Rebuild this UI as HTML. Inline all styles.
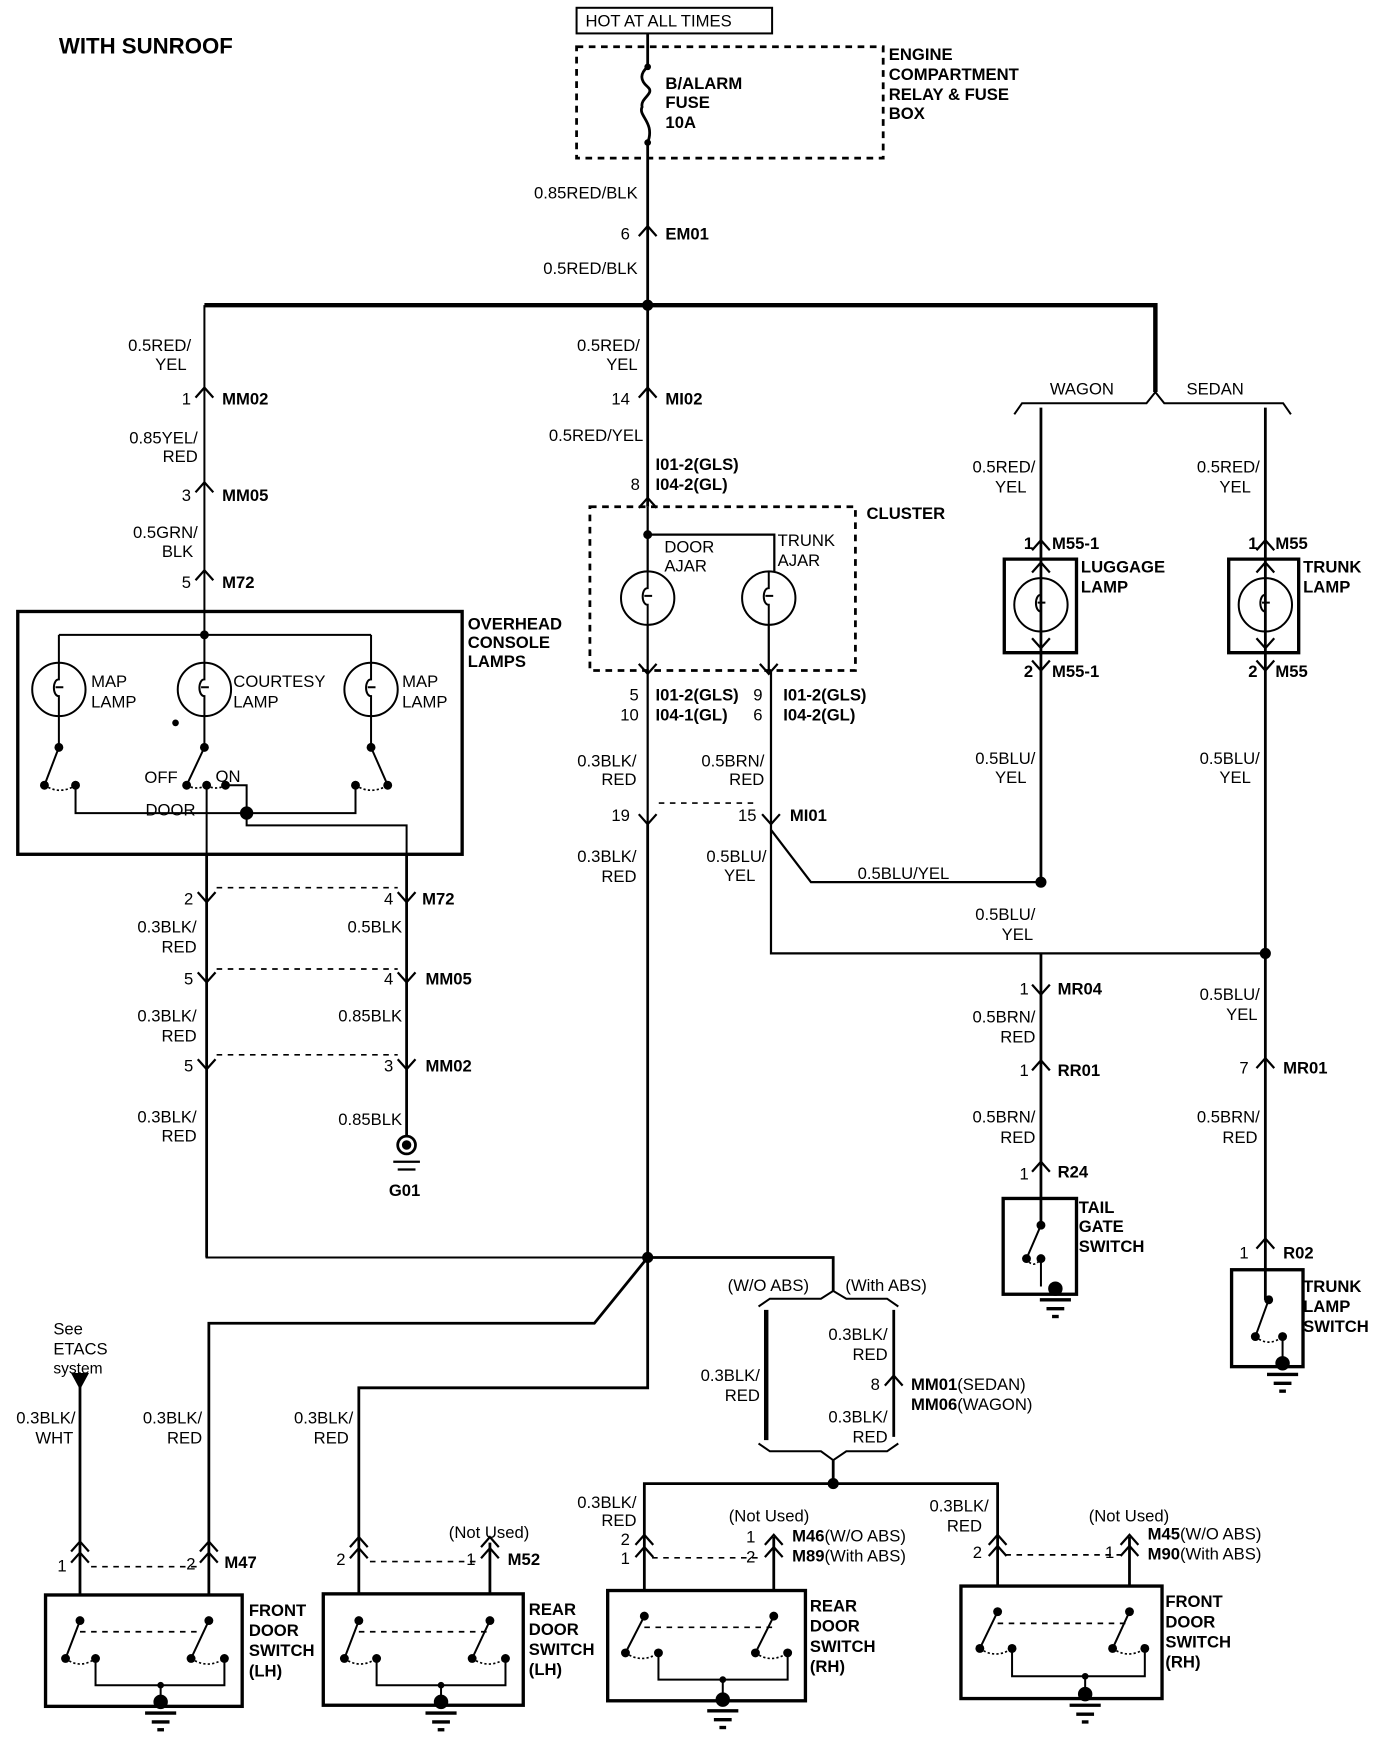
<!DOCTYPE html>
<html><head><meta charset="utf-8"><style>
html,body{margin:0;padding:0;background:#fff}
svg{display:block}
text{font-family:"Liberation Sans",sans-serif;font-size:15px;fill:#000}
.b{font-weight:bold}
.e{text-anchor:end}
</style></head><body>
<svg width="1392" height="1742" viewBox="0 0 1253 1564" preserveAspectRatio="none" xmlns="http://www.w3.org/2000/svg">
<defs>
<path id="cu" d="M-8,9 L0,0 L8,9" fill="none" stroke="#000" stroke-width="2"/>
<path id="cd" d="M-8,-9 L0,0 L8,-9" fill="none" stroke="#000" stroke-width="2"/>
<g id="lamp" fill="none" stroke="#000" stroke-width="1.8"><circle r="24"/><path d="M0,-24 V-9 C-6,-9 -6,6 0,6 V24 M-3,-2 H4"/></g>
<g id="gnd" stroke="#000" stroke-width="3"><circle r="5" fill="#000"/><line x1="-14" y1="10" x2="14" y2="10"/><line x1="-8" y1="18" x2="8" y2="18"/><line x1="-3" y1="25" x2="3" y2="25"/></g>
</defs>
<g fill="none" stroke="#000" stroke-width="2.5">
<rect x="519" y="7" width="176" height="23" stroke-width="1.8"/>
<rect x="519" y="42" width="276" height="100" stroke-dasharray="6,5"/>
<path d="M583,30 V60 M583,60 C576,66 576,72 583,78 C590,84 576,88 578,96 C574,104 590,110 583,128 V274"/>
<path d="M184,274 H1040 V352" stroke-width="4"/>
<path d="M913,372 L920,362 H1032 L1040,352 L1048,362 H1155 L1162,372" stroke-width="1.8"/>
<path d="M937,366 V792 M1139,366 V856"/>
<path d="M184,274 V570 M53,570 H334 M53,570 V596 M53,642 V671 M184,570 V596 M184,642 V671 M334,570 V596 M334,642 V671" stroke-width="1.8"/>
<rect x="16" y="549" width="400" height="218" stroke-width="3"/>
<path d="M53,671 L40,705 M184,671 L168,705 M334,671 L349,705" stroke-width="1.8"/>
<path d="M40,705 Q54,714 68,705 M168,705 Q177,710 186,705 M186,705 Q194,710 203,705 M320,705 Q334,714 349,705" stroke-dasharray="2,2" stroke-width="1.5"/>
<path d="M68,705 V730 H320 V705 M203,705 H222 V741 H366 V957 M186,705 V1129 H583" stroke-width="1.8"/>
<path d="M186,767 V1129 M366,767 V1020" stroke-width="2.5"/>
<path d="M195,797 H358 M195,870 H358 M195,947 H358" stroke-dasharray="5,5" stroke-width="1.5"/>
<circle cx="366" cy="1028" r="8"/><circle cx="366" cy="1028" r="3" fill="#000"/>
<path d="M354,1043 H378 M358,1050 H374" stroke-width="2"/>
<path d="M583,274 V455 M583,740 V1246 H323 V1430"/>
<rect x="531" y="455" width="239" height="147" stroke-dasharray="6,5"/>
<path d="M583,455 V513 M583,480 H697 V513 M583,561 V603 M692,561 V603 M583,603 V740 M694,603 V856 H1139 M694,745 L730,792 H937" stroke-width="2"/>
<path d="M593,721 H680" stroke-dasharray="5,5" stroke-width="1.5"/>
<path d="M583,1129 H750 V1159 M583,1129 L535,1188 H188 V1432"/>
<path d="M682.8,1173 L693,1166 H739 L750,1159 L761.8,1166 H798.5 L808.6,1173" stroke-width="1.8"/>
<path d="M682.8,1296 L693,1303 H739 L750,1311 L761.8,1303 H798.5 L808.6,1296" stroke-width="1.8"/>
<path d="M689.7,1176 V1293" stroke-width="4"/>
<path d="M804.5,1176 V1290 M750,1311 V1332 M580,1428 V1332 H898 V1424 M696.5,1380 V1428 M1016.7,1380 V1424 M441,1385 V1432 M72,1245 V1432"/>
<path d="M72,1245 L66,1234 L78,1234 Z" fill="#000"/>
<path d="M904,502 H969 V586 H904 Z M1106,502 H1169 V586 H1106 Z" stroke-width="3"/>
<path d="M937,856 V1100 M1139,856 V1167" />
<rect x="903" y="1076" width="66" height="86" stroke-width="3"/>
<path d="M937,1100 L924,1130 M937,1130 V1155" stroke-width="1.8"/>
<path d="M924,1130 Q930,1140 937,1130" stroke-dasharray="2,2" stroke-width="1.5"/>
<rect x="1108.6" y="1140" width="64.3" height="87" stroke-width="3"/>
<path d="M1142,1167 L1130,1200 M1154.5,1200 V1222" stroke-width="1.8"/>
<path d="M1130,1200 Q1142,1210 1154.5,1200" stroke-dasharray="2,2" stroke-width="1.5"/>
<rect x="41" y="1432" width="177" height="100" stroke-width="3"/>
<rect x="291" y="1431" width="180" height="100" stroke-width="3"/>
<rect x="547" y="1428" width="178" height="99" stroke-width="3"/>
<rect x="865" y="1424" width="181" height="101" stroke-width="3"/>
<path d="M72,1455 L59,1489 M188,1455 L172,1489 M323,1455 L310,1489 M441,1455 L425,1489 M580,1451 L563,1484 M696.5,1451 L680,1484 M898,1447 L882,1480 M1016.7,1447 L1001.5,1480" stroke-width="1.8"/>
<path d="M86,1489 V1513 H202 V1489 M144.6,1513 V1526 M339,1489 V1513 H455 V1489 M397,1513 V1526 M592.7,1484 V1508 H709 V1484 M650.6,1508 V1525 M911,1480 V1505 H1030.5 V1480 M976.8,1505 V1520" stroke-width="1.8"/>
<path d="M59,1489 Q72,1499 86,1489 M172,1489 Q187,1499 202,1489 M310,1489 Q324,1499 339,1489 M425,1489 Q440,1499 455,1489 M563,1484 Q578,1494 592.7,1484 M680,1484 Q694,1494 709,1484 M882,1480 Q896,1490 911,1480 M1001.5,1480 Q1016,1490 1030.5,1480" stroke-dasharray="2,2" stroke-width="1.5"/>
<path d="M72,1465 H182 M323,1465 H441 M580,1461 H696 M898,1457.5 H1016 M82,1406.6 H178 M333,1402 H430 M587,1398.6 H684 M905,1396 H1010" stroke-dasharray="5,5" stroke-width="1.5"/>
</g>
<g fill="#000">
<circle cx="583" cy="274" r="5"/><circle cx="583" cy="60" r="3"/><circle cx="583" cy="128" r="3"/>
<circle cx="184" cy="570" r="4"/><circle cx="583" cy="480" r="4"/><circle cx="222" cy="730" r="6"/>
<circle cx="53" cy="671" r="4"/><circle cx="184" cy="671" r="4"/><circle cx="334" cy="671" r="4"/>
<circle cx="40" cy="705" r="4"/><circle cx="68" cy="705" r="4"/><circle cx="168" cy="705" r="4"/><circle cx="186" cy="705" r="4"/><circle cx="203" cy="705" r="4"/><circle cx="320" cy="705" r="4"/><circle cx="349" cy="705" r="4"/>
<circle cx="158" cy="649" r="3"/>
<circle cx="937" cy="792" r="5"/><circle cx="1139" cy="856" r="5"/><circle cx="583" cy="1129" r="5"/><circle cx="750" cy="1332" r="5"/>
<circle cx="937" cy="1100" r="4"/><circle cx="924" cy="1130" r="4"/><circle cx="937" cy="1130" r="4"/>
<circle cx="1142" cy="1167" r="4"/><circle cx="1130" cy="1200" r="4"/><circle cx="1154.5" cy="1200" r="4"/>
<circle cx="72" cy="1455" r="4"/><circle cx="188" cy="1455" r="4"/><circle cx="59" cy="1489" r="4"/><circle cx="86" cy="1489" r="4"/><circle cx="172" cy="1489" r="4"/><circle cx="202" cy="1489" r="4"/><circle cx="144.6" cy="1513" r="3"/>
<circle cx="323" cy="1455" r="4"/><circle cx="441" cy="1455" r="4"/><circle cx="310" cy="1489" r="4"/><circle cx="339" cy="1489" r="4"/><circle cx="425" cy="1489" r="4"/><circle cx="455" cy="1489" r="4"/><circle cx="397" cy="1513" r="3"/>
<circle cx="580" cy="1451" r="4"/><circle cx="696.5" cy="1451" r="4"/><circle cx="563" cy="1484" r="4"/><circle cx="592.7" cy="1484" r="4"/><circle cx="680" cy="1484" r="4"/><circle cx="709" cy="1484" r="4"/><circle cx="650.6" cy="1508" r="3"/>
<circle cx="898" cy="1447" r="4"/><circle cx="1016.7" cy="1447" r="4"/><circle cx="882" cy="1480" r="4"/><circle cx="911" cy="1480" r="4"/><circle cx="1001.5" cy="1480" r="4"/><circle cx="1030.5" cy="1480" r="4"/><circle cx="976.8" cy="1505" r="3"/>
</g>
<use href="#lamp" x="53" y="619"/><use href="#lamp" x="184" y="619"/><use href="#lamp" x="334" y="619"/>
<use href="#lamp" x="583" y="537"/><use href="#lamp" x="692" y="537"/>
<use href="#lamp" x="937" y="543"/><use href="#lamp" x="1139" y="543"/>
<use href="#gnd" x="144.6" y="1528"/><use href="#gnd" x="397" y="1528"/><use href="#gnd" x="650.6" y="1526"/><use href="#gnd" x="976.8" y="1521"/>
<use href="#gnd" x="950" y="1157"/><use href="#gnd" x="1154.5" y="1224"/>
<use href="#cu" x="583" y="203"/><use href="#cu" x="184" y="348"/><use href="#cu" x="184" y="433"/><use href="#cu" x="184" y="512"/>
<use href="#cu" x="583" y="348"/><use href="#cu" x="583" y="447"/>
<use href="#cd" x="583" y="605"/><use href="#cd" x="692" y="605"/><use href="#cd" x="583" y="740"/><use href="#cd" x="694" y="740"/>
<use href="#cd" x="186" y="810"/><use href="#cd" x="366" y="810"/><use href="#cd" x="186" y="882"/><use href="#cd" x="366" y="882"/><use href="#cd" x="186" y="960"/><use href="#cd" x="366" y="960"/>
<use href="#cu" x="937" y="485"/><use href="#cu" x="937" y="505"/><use href="#cd" x="937" y="582"/><use href="#cd" x="937" y="602"/>
<use href="#cu" x="1139" y="485"/><use href="#cu" x="1139" y="505"/><use href="#cd" x="1139" y="582"/><use href="#cd" x="1139" y="602"/>
<use href="#cd" x="937" y="893"/><use href="#cu" x="937" y="952"/><use href="#cu" x="937" y="1043"/>
<use href="#cu" x="1139" y="950"/><use href="#cu" x="1139" y="1112"/><use href="#cu" x="804.5" y="1235"/>
<use href="#cu" x="72" y="1384"/><use href="#cu" x="72" y="1394"/><use href="#cu" x="188" y="1384"/><use href="#cu" x="188" y="1394"/>
<use href="#cu" x="323" y="1380"/><use href="#cu" x="323" y="1390"/><use href="#cu" x="441" y="1380"/><use href="#cu" x="441" y="1390"/>
<use href="#cu" x="580" y="1378"/><use href="#cu" x="580" y="1389"/><use href="#cu" x="696.5" y="1378"/><use href="#cu" x="696.5" y="1389"/>
<use href="#cu" x="898" y="1378"/><use href="#cu" x="898" y="1388"/><use href="#cu" x="1016.7" y="1378"/><use href="#cu" x="1016.7" y="1388"/>
<text x="53" y="48" class="b" style="font-size:20px">WITH SUNROOF</text>
<text x="527" y="24">HOT AT ALL TIMES</text>
<text x="599" y="80" class="b">B/ALARM</text><text x="599" y="97" class="b">FUSE</text><text x="599" y="115" class="b">10A</text>
<text x="800" y="54" class="b">ENGINE</text><text x="800" y="72" class="b">COMPARTMENT</text><text x="800" y="90" class="b">RELAY &amp; FUSE</text><text x="800" y="107" class="b">BOX</text>
<text x="574" y="178" class="e">0.85RED/BLK</text>
<text x="567" y="215" class="e">6</text><text x="599" y="215" class="b">EM01</text>
<text x="574" y="246" class="e">0.5RED/BLK</text>
<text x="172" y="315" class="e">0.5RED/</text><text x="168" y="332" class="e">YEL</text>
<text x="172" y="363" class="e">1</text><text x="200" y="363" class="b">MM02</text>
<text x="178" y="398" class="e">0.85YEL/</text><text x="178" y="415" class="e">RED</text>
<text x="172" y="450" class="e">3</text><text x="200" y="450" class="b">MM05</text>
<text x="178" y="483" class="e">0.5GRN/</text><text x="174" y="500" class="e">BLK</text>
<text x="172" y="528" class="e">5</text><text x="200" y="528" class="b">M72</text>
<text x="421" y="565" class="b">OVERHEAD</text><text x="421" y="582" class="b">CONSOLE</text><text x="421" y="599" class="b">LAMPS</text>
<text x="82" y="617">MAP</text><text x="82" y="635">LAMP</text>
<text x="210" y="617">COURTESY</text><text x="210" y="635">LAMP</text>
<text x="362" y="617">MAP</text><text x="362" y="635">LAMP</text>
<text x="130" y="703">OFF</text><text x="194" y="702">ON</text><text x="131" y="732">DOOR</text>
<text x="174" y="812" class="e">2</text><text x="354" y="812" class="e">4</text><text x="380" y="812" class="b">M72</text>
<text x="177" y="837" class="e">0.3BLK/</text><text x="177" y="855" class="e">RED</text><text x="362" y="837" class="e">0.5BLK</text>
<text x="174" y="884" class="e">5</text><text x="354" y="884" class="e">4</text><text x="383" y="884" class="b">MM05</text>
<text x="177" y="917" class="e">0.3BLK/</text><text x="177" y="935" class="e">RED</text><text x="362" y="917" class="e">0.85BLK</text>
<text x="174" y="962" class="e">5</text><text x="354" y="962" class="e">3</text><text x="383" y="962" class="b">MM02</text>
<text x="177" y="1008" class="e">0.3BLK/</text><text x="177" y="1025" class="e">RED</text><text x="362" y="1010" class="e">0.85BLK</text>
<text x="350" y="1074" class="b">G01</text>
<text x="576" y="315" class="e">0.5RED/</text><text x="574" y="332" class="e">YEL</text>
<text x="567" y="363" class="e">14</text><text x="599" y="363" class="b">MI02</text>
<text x="579" y="396" class="e">0.5RED/YEL</text>
<text x="590" y="422" class="b">I01-2(GLS)</text><text x="590" y="440" class="b">I04-2(GL)</text><text x="576" y="440" class="e">8</text>
<text x="780" y="466" class="b">CLUSTER</text>
<text x="598" y="496">DOOR</text><text x="598" y="513">AJAR</text>
<text x="700" y="490">TRUNK</text><text x="700" y="508">AJAR</text>
<text x="575" y="629" class="e">5</text><text x="575" y="647" class="e">10</text>
<text x="590" y="629" class="b">I01-2(GLS)</text><text x="590" y="647" class="b">I04-1(GL)</text>
<text x="678" y="629">9</text><text x="678" y="647">6</text>
<text x="705" y="629" class="b">I01-2(GLS)</text><text x="705" y="647" class="b">I04-2(GL)</text>
<text x="573" y="688" class="e">0.3BLK/</text><text x="573" y="705" class="e">RED</text>
<text x="688" y="688" class="e">0.5BRN/</text><text x="688" y="705" class="e">RED</text>
<text x="567" y="737" class="e">19</text><text x="681" y="737" class="e">15</text><text x="711" y="737" class="b">MI01</text>
<text x="573" y="774" class="e">0.3BLK/</text><text x="573" y="792" class="e">RED</text>
<text x="690" y="774" class="e">0.5BLU/</text><text x="680" y="791" class="e">YEL</text>
<text x="772" y="789">0.5BLU/YEL</text>
<text x="945" y="354">WAGON</text><text x="1068" y="354">SEDAN</text>
<text x="932" y="424" class="e">0.5RED/</text><text x="924" y="442" class="e">YEL</text>
<text x="1134" y="424" class="e">0.5RED/</text><text x="1126" y="442" class="e">YEL</text>
<text x="930" y="493" class="e b">1</text><text x="947" y="493" class="b">M55-1</text>
<text x="973" y="514" class="b">LUGGAGE</text><text x="973" y="532" class="b">LAMP</text>
<text x="930" y="608" class="e b">2</text><text x="947" y="608" class="b">M55-1</text>
<text x="1132" y="493" class="e b">1</text><text x="1148" y="493" class="b">M55</text>
<text x="1173" y="514" class="b">TRUNK</text><text x="1173" y="532" class="b">LAMP</text>
<text x="1132" y="608" class="e b">2</text><text x="1148" y="608" class="b">M55</text>
<text x="932" y="686" class="e">0.5BLU/</text><text x="924" y="703" class="e">YEL</text>
<text x="1134" y="686" class="e">0.5BLU/</text><text x="1126" y="703" class="e">YEL</text>
<text x="932" y="826" class="e">0.5BLU/</text><text x="930" y="844" class="e">YEL</text>
<text x="926" y="893" class="e">1</text><text x="952" y="893" class="b">MR04</text>
<text x="932" y="918" class="e">0.5BRN/</text><text x="932" y="936" class="e">RED</text>
<text x="926" y="966" class="e">1</text><text x="952" y="966" class="b">RR01</text>
<text x="932" y="1008" class="e">0.5BRN/</text><text x="932" y="1026" class="e">RED</text>
<text x="926" y="1059" class="e">1</text><text x="952" y="1057" class="b">R24</text>
<text x="971" y="1089" class="b">TAIL</text><text x="971" y="1106" class="b">GATE</text><text x="971" y="1124" class="b">SWITCH</text>
<text x="1134" y="898" class="e">0.5BLU/</text><text x="1132" y="916" class="e">YEL</text>
<text x="1124" y="964" class="e">7</text><text x="1155" y="964" class="b">MR01</text>
<text x="1134" y="1008" class="e">0.5BRN/</text><text x="1132" y="1026" class="e">RED</text>
<text x="1124" y="1130" class="e">1</text><text x="1155" y="1130" class="b">R02</text>
<text x="1173" y="1160" class="b">TRUNK</text><text x="1173" y="1178" class="b">LAMP</text><text x="1173" y="1196" class="b">SWITCH</text>
<text x="655" y="1159">(W/O ABS)</text><text x="761" y="1159">(With ABS)</text>
<text x="799" y="1203" class="e">0.3BLK/</text><text x="799" y="1221" class="e">RED</text>
<text x="684" y="1240" class="e">0.3BLK/</text><text x="684" y="1258" class="e">RED</text>
<text x="792" y="1248" class="e">8</text><text x="820" y="1248" class="b">MM01<tspan style="font-weight:normal">(SEDAN)</tspan></text>
<text x="820" y="1266" class="b">MM06<tspan style="font-weight:normal">(WAGON)</tspan></text>
<text x="799" y="1277" class="e">0.3BLK/</text><text x="799" y="1295" class="e">RED</text>
<text x="48" y="1198">See</text><text x="48" y="1216">ETACS</text><text x="48" y="1233" style="font-size:14px">system</text>
<text x="68" y="1278" class="e">0.3BLK/</text><text x="66" y="1296" class="e">WHT</text>
<text x="182" y="1278" class="e">0.3BLK/</text><text x="182" y="1296" class="e">RED</text>
<text x="318" y="1278" class="e">0.3BLK/</text><text x="314" y="1296" class="e">RED</text>
<text x="60" y="1411" class="e">1</text><text x="176" y="1409" class="e">2</text><text x="202" y="1408" class="b">M47</text>
<text x="224" y="1451" class="b">FRONT</text><text x="224" y="1469" class="b">DOOR</text><text x="224" y="1487" class="b">SWITCH</text><text x="224" y="1505" class="b">(LH)</text>
<text x="311" y="1405" class="e">2</text><text x="428" y="1405" class="e">1</text><text x="457" y="1405" class="b">M52</text>
<text x="404" y="1381">(Not Used)</text>
<text x="476" y="1450" class="b">REAR</text><text x="476" y="1468" class="b">DOOR</text><text x="476" y="1486" class="b">SWITCH</text><text x="476" y="1504" class="b">(LH)</text>
<text x="573" y="1354" class="e">0.3BLK/</text><text x="573" y="1370" class="e">RED</text>
<text x="567" y="1387" class="e">2</text><text x="567" y="1404" class="e">1</text>
<text x="656" y="1366">(Not Used)</text>
<text x="680" y="1385" class="e">1</text><text x="680" y="1403" class="e">2</text>
<text x="713" y="1384" class="b">M46<tspan style="font-weight:normal">(W/O ABS)</tspan></text>
<text x="713" y="1402" class="b">M89<tspan style="font-weight:normal">(With ABS)</tspan></text>
<text x="729" y="1447" class="b">REAR</text><text x="729" y="1465" class="b">DOOR</text><text x="729" y="1483" class="b">SWITCH</text><text x="729" y="1501" class="b">(RH)</text>
<text x="890" y="1357" class="e">0.3BLK/</text><text x="884" y="1375" class="e">RED</text>
<text x="884" y="1399" class="e">2</text><text x="1003" y="1399" class="e">1</text>
<text x="980" y="1366">(Not Used)</text>
<text x="1033" y="1382" class="b">M45<tspan style="font-weight:normal">(W/O ABS)</tspan></text>
<text x="1033" y="1400" class="b">M90<tspan style="font-weight:normal">(With ABS)</tspan></text>
<text x="1049" y="1443" class="b">FRONT</text><text x="1049" y="1461" class="b">DOOR</text><text x="1049" y="1479" class="b">SWITCH</text><text x="1049" y="1497" class="b">(RH)</text>
</svg>
</body></html>
